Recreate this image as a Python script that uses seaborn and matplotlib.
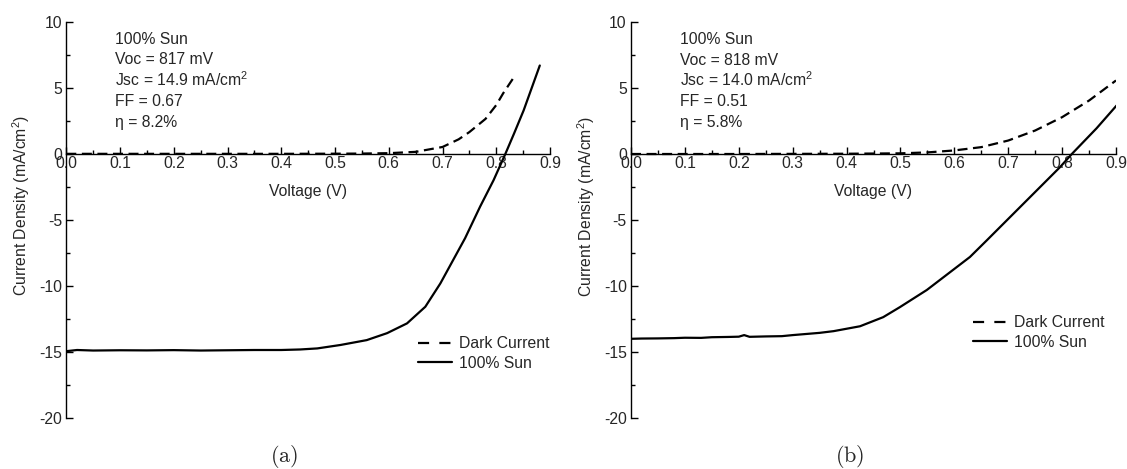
import numpy as np
import pandas as pd
import matplotlib
matplotlib.use("Agg")
import matplotlib.pyplot as plt
import seaborn as sns
from matplotlib.ticker import MultipleLocator, FormatStrFormatter
from matplotlib.lines import Line2D

# ---------------- data ----------------
# panel (a)
volt_a_dark = [0.00, 0.10, 0.20, 0.30, 0.40, 0.50, 0.55, 0.60, 0.65, 0.70, 0.73, 0.75, 0.78, 0.80, 0.813, 0.831]
cur_a_dark = [0.00, 0.00, 0.00, 0.00, 0.00, 0.01, 0.02, 0.05, 0.15, 0.52, 1.10, 1.65, 2.65, 3.70, 4.60, 5.70]

volt_a_sun = [0.00, 0.02, 0.05, 0.10, 0.15, 0.20, 0.25, 0.30, 0.35, 0.40, 0.435, 0.467, 0.51,
              0.559, 0.597, 0.634, 0.668, 0.696, 0.742, 0.770, 0.795, 0.817, 0.833, 0.851, 0.881]
cur_a_sun = [-14.97, -14.88, -14.92, -14.90, -14.91, -14.89, -14.92, -14.90, -14.88, -14.88, -14.84, -14.76, -14.50,
             -14.13, -13.60, -12.86, -11.60, -9.83, -6.40, -4.00, -2.00, 0.00, 1.53, 3.30, 6.70]

# panel (b)
volt_b_dark = [0.00, 0.10, 0.20, 0.30, 0.40, 0.50, 0.55, 0.60, 0.65, 0.70, 0.75, 0.80, 0.85, 0.90]
cur_b_dark = [0.00, 0.00, 0.00, 0.01, 0.02, 0.05, 0.12, 0.27, 0.52, 1.02, 1.78, 2.79, 4.05, 5.57]

volt_b_sun = [0.00, 0.02, 0.05, 0.08, 0.10, 0.13, 0.15, 0.18, 0.20, 0.21, 0.22, 0.25, 0.28, 0.30,
              0.35, 0.376, 0.425, 0.468, 0.499, 0.549, 0.629, 0.660, 0.747, 0.796, 0.818, 0.864, 0.901]
cur_b_sun = [-14.00, -13.98, -13.97, -13.95, -13.92, -13.93, -13.88, -13.86, -13.84, -13.72, -13.85, -13.82, -13.80, -13.72,
             -13.55, -13.42, -13.05, -12.36, -11.60, -10.30, -7.80, -6.55, -3.00, -1.00, 0.00, 1.95, 3.67]

annot_a = ["100% Sun", "Voc = 817 mV", "Jsc = 14.9 mA/cm$^2$", "FF = 0.67", "\u03b7 = 8.2%"]
annot_b = ["100% Sun", "Voc = 818 mV", "Jsc = 14.0 mA/cm$^2$", "FF = 0.51", "\u03b7 = 5.8%"]
legend_labels = ["Dark Current", "100% Sun"]
captions = ["(a)", "(b)"]

# ---------------- style ----------------
sns.set_style("ticks")
plt.rcParams["font.family"] = ["Liberation Sans", "DejaVu Sans"]
plt.rcParams["mathtext.fontset"] = "custom"
plt.rcParams["mathtext.rm"] = "Liberation Sans"
plt.rcParams["mathtext.it"] = "Liberation Sans:italic"
plt.rcParams["mathtext.bf"] = "Liberation Sans:bold"
plt.rcParams["axes.unicode_minus"] = False

FS = 11.3
W, H = 1127, 469
fig = plt.figure(figsize=(W / 100, H / 100), dpi=100)
fig.patch.set_facecolor("white")

ax_a = fig.add_axes([66.3 / W, 1 - 417.5 / H, 483.7 / W, 395.5 / H])
ax_b = fig.add_axes([631 / W, 1 - 418.0 / H, 485.0 / W, 396.0 / H])

panels = [
    (ax_a, volt_a_dark, cur_a_dark, volt_a_sun, cur_a_sun, annot_a, (0.727, 0.162)),
    (ax_b, volt_b_dark, cur_b_dark, volt_b_sun, cur_b_sun, annot_b, (0.705, 0.216)),
]

annot_y = [8.35, 6.78, 5.18, 3.62, 2.07]

for ax, vd, jd, vs, js, annot, leg_pos in panels:
    ax.set_facecolor("white")
    df_d = pd.DataFrame({"V": vd, "J": jd})
    df_s = pd.DataFrame({"V": vs, "J": js})
    sns.lineplot(data=df_d, x="V", y="J", ax=ax, color="black", lw=1.6,
                 linestyle=(0, (4.5, 2.5)), estimator=None, sort=False)
    sns.lineplot(data=df_s, x="V", y="J", ax=ax, color="black", lw=1.6,
                 estimator=None, sort=False)

    ax.set_xlim(0, 0.9)
    ax.set_ylim(-20, 10)
    for s in ["top", "right"]:
        ax.spines[s].set_visible(False)
    ax.spines["left"].set_position(("data", 0))
    ax.spines["bottom"].set_position(("data", 0))
    for s in ["left", "bottom"]:
        ax.spines[s].set_linewidth(1.0)
        ax.spines[s].set_color("black")

    ax.xaxis.set_major_locator(MultipleLocator(0.1))
    ax.xaxis.set_minor_locator(MultipleLocator(0.05))
    ax.xaxis.set_major_formatter(FormatStrFormatter("%.1f"))
    ax.yaxis.set_major_locator(MultipleLocator(5))
    ax.yaxis.set_minor_locator(MultipleLocator(2.5))
    ax.yaxis.set_major_formatter(FormatStrFormatter("%d"))
    ax.tick_params(axis="x", which="both", direction="in", bottom=True, top=False,
                   labelsize=FS, pad=1.5, color="black")
    ax.tick_params(axis="y", which="both", direction="in", left=True, right=False,
                   labelsize=FS, pad=3, color="black")
    ax.tick_params(which="major", length=4.8, width=1.0)
    ax.tick_params(which="minor", length=2.6, width=1.0)

    ax.set_xlabel("Voltage (V)", fontsize=FS)
    ax.xaxis.set_label_coords(0.5, 0.590)
    ax.set_ylabel("Current Density (mA/cm$^2$)", fontsize=FS)
    ax.yaxis.set_label_coords(-0.071, 0.535)

    for txt, yy in zip(annot, annot_y):
        ax.text(0.09, yy, txt, fontsize=FS, va="baseline", ha="left")

    handles = [Line2D([], [], color="black", lw=1.6, linestyle=(0, (5.0, 4.6))),
               Line2D([], [], color="black", lw=1.6)]
    ax.legend(handles, legend_labels, loc="center left", bbox_to_anchor=leg_pos,
              frameon=False, borderpad=0, borderaxespad=0, handlelength=2.15,
              handletextpad=0.45, labelspacing=0.3, fontsize=FS)

fig.text(284 / W, 1 - 456 / H, r"$\mathrm{" + captions[0] + "}$", math_fontfamily="cm",
         fontsize=16, ha="center", va="center")
fig.text(850 / W, 1 - 456 / H, r"$\mathrm{" + captions[1] + "}$", math_fontfamily="cm",
         fontsize=16, ha="center", va="center")

fig.savefig("out.png", dpi=100, facecolor="white")
